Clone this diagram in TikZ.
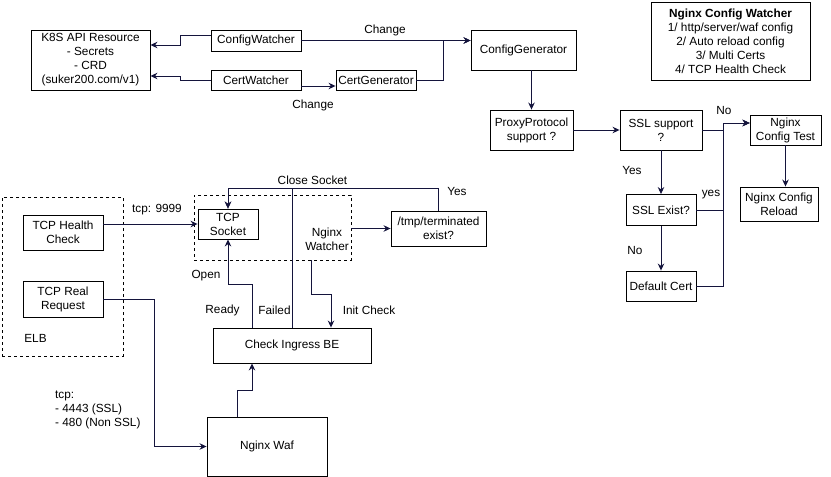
\documentclass[tikz,border=0pt]{standalone}
\usepackage{fontspec}
\setmainfont{Liberation Sans}
\usetikzlibrary{arrows.meta,positioning}
\definecolor{edgenavy}{HTML}{14143C}
\definecolor{boxline}{HTML}{000000}
\tikzset{
  >=Stealth,
  proc/.style={
    rectangle, draw=boxline, line width=0.9pt, align=center,
    inner sep=0pt, font=\fontsize{11.8}{14}\selectfont
  },
  group/.style={rectangle, draw=boxline, line width=0.9pt, dashed, inner sep=0pt},
  arrow/.style={-{Stealth[length=7pt,width=6.5pt]}, line width=0.9pt, draw=edgenavy},
  lbl/.style={font=\fontsize{11.8}{14}\selectfont, align=center, inner sep=0pt},
  note/.style={font=\fontsize{11.8}{14}\selectfont, align=left, inner sep=0pt}
}

\begin{document}
\begin{tikzpicture}[x=1pt,y=-1pt]
\useasboundingbox (0,0) rectangle (831,477);
\node[group, minimum width=121, minimum height=159] (elb) at (62.5,276.5) {};
\node[group, minimum width=157, minimum height=65] (nw) at (272.5,227.5) {};
\node[proc, minimum width=119, minimum height=60] (k8s) at (90.5,60) {K8S API Resource\\- Secrets\\- CRD\\(suker200.com/v1)};
\node[proc, minimum width=90, minimum height=21] (cfgwatch) at (256,40.5) {ConfigWatcher};
\node[proc, minimum width=90, minimum height=20] (certwatch) at (256,80) {CertWatcher};
\node[proc, minimum width=80, minimum height=20] (certgen) at (376,80) {CertGenerator};
\node[proc, minimum width=105, minimum height=40] (cfggen) at (523.5,50) {ConfigGenerator};
\node[proc, minimum width=159, minimum height=78] (cfgnote) at (730.5,41) {\textbf{Nginx Config Watcher}\\1/ http/server/waf config\\2/ Auto reload config\\3/ Multi Certs\\4/ TCP Health Check};
\node[proc, minimum width=83, minimum height=40] (proxy) at (531.5,130) {ProxyProtocol\\support ?};
\node[proc, minimum width=82, minimum height=40] (sslsup) at (661,130) {SSL support\\?};
\node[proc, minimum width=71, minimum height=30] (ngtest) at (785.5,130) {Nginx\\Config Test};
\node[proc, minimum width=70, minimum height=31] (sslexist) at (661,210) {SSL Exist?};
\node[proc, minimum width=70, minimum height=30] (defcert) at (661,286) {Default Cert};
\node[proc, minimum width=78, minimum height=34] (ngreload) at (779,204) {Nginx Config\\Reload};
\node[proc, minimum width=80, minimum height=35] (hc) at (63,232.5) {TCP Health\\Check};
\node[proc, minimum width=80, minimum height=36] (rr) at (63,299) {TCP Real\\Request};
\node[proc, minimum width=60, minimum height=30] (sock) at (228,224) {TCP\\Socket};
\node[lbl] (nwtext) at (327,239) {Nginx\\Watcher};
\node[proc, minimum width=95, minimum height=35] (tmp) at (438.5,228.5) {/tmp/terminated\\exist?};
\node[proc, minimum width=158, minimum height=35] (cibe) at (292,345.5) {Check Ingress BE};
\node[proc, minimum width=120, minimum height=59] (waf) at (267,446.5) {Nginx Waf};
\node[lbl] (elbtext) at (35.5,338) {ELB};
\node[note, anchor=west] (tcpports) at (55,410) {tcp:\\- 4443 (SSL)\\- 480 (Non SSL)};
\draw[arrow] ([yshift=5pt]cfgwatch.west) -| (180,45) -- ([yshift=15pt]k8s.east);
\draw[arrow] (certwatch.west) -| (180,76) -- ([yshift=-16pt]k8s.east);
\draw[arrow] (cfgwatch.east) -- (cfggen.west |- cfgwatch.east);
\draw[arrow] (certgen.east) -| (443,40.5) -- (cfggen.west |- cfgwatch.east);
\draw[arrow] ([yshift=-6pt]certwatch.east) -- ([yshift=-6pt]certgen.west);
\node[lbl] (chg1) at (385,30) {Change};
\node[lbl] (chg2) at (313,105) {Change};
\draw[arrow] (proxy.north |- cfggen.south) -- (proxy.north);
\draw[arrow] (proxy.east) -- (sslsup.west);
\draw[arrow] (sslsup.east) -| (723,123) -- ([yshift=7pt]ngtest.west);
\draw[arrow] (sslexist.east) -| (723,123) -- ([yshift=7pt]ngtest.west);
\draw[arrow] (defcert.east) -| (723,123) -- ([yshift=7pt]ngtest.west);
\draw[arrow] (sslsup.south) -- (sslexist.north);
\draw[arrow] (sslexist.south) -- (defcert.north);
\draw[arrow] (ngtest.south) -- (ngtest.south |- ngreload.north);
\node[lbl] (no1) at (724,110) {No};
\node[lbl] (yes1) at (632,170) {Yes};
\node[lbl] (yes2) at (711,195) {yes};
\node[lbl] (no2) at (635,250) {No};
\draw[arrow] (hc.east |- sock.west) -- (sock.west);
\draw[arrow] (nw.east |- tmp.west) -- (tmp.west);
\draw[arrow] (tmp.north) |- ([yshift=20pt]sock.north) -- (sock.north);
\draw[arrow] (cibe.north) |- ([yshift=20pt]sock.north) -- (sock.north);
\draw[arrow] ([xshift=-40pt]cibe.north) |- ([yshift=-45pt]sock.south) -- (sock.south);
\draw[arrow] ([xshift=39pt]nw.south) |- (331,294) -- ([xshift=39pt]cibe.north);
\draw[arrow] (rr.east) -| ([xshift=-52pt]waf.west) -- (waf.west);
\draw[arrow] ([xshift=-30pt]waf.north) |- (252,390) -- ([xshift=-40pt]cibe.south);
\node[lbl] (tcp9999) at (157,210) {tcp: 9999};
\node[lbl] (yes3) at (457,191) {Yes};
\node[lbl] (closesock) at (312.5,180) {Close Socket};
\node[lbl] (open) at (206,276) {Open};
\node[lbl] (ready) at (222.5,310.5) {Ready};
\node[lbl] (failed) at (274.5,310.5) {Failed};
\node[lbl] (initchk) at (369,310) {Init Check};
\end{tikzpicture}
\end{document}
